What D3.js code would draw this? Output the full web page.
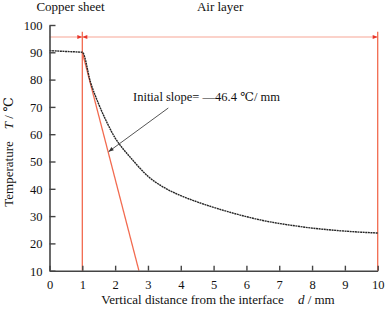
<!DOCTYPE html>
<html>
<head>
<meta charset="utf-8">
<script src="https://cdn.jsdelivr.net/npm/d3@7"></script>
<style>
  body { margin: 0; background: #fff; }
  svg text { font-family: "Liberation Serif", "DejaVu Serif", serif; fill: #111; }
</style>
</head>
<body>
<script>
// distance d (mm) and temperature T (°C)
const dist = [0, 0.5, 1, 1.25, 1.5, 1.75, 2, 2.25, 2.5, 2.75, 3, 3.5, 4, 4.5, 5, 5.5, 6, 6.5, 7, 7.5, 8, 8.5, 9, 9.5, 10];
const temp = [90.6, 90.3, 90.0, 79.0, 71.0, 64.3, 58.6, 54.5, 51.0, 47.6, 44.6, 40.4, 37.5, 35.2, 33.2, 31.4, 29.8, 28.4, 27.3, 26.4, 25.6, 25.0, 24.5, 24.1, 23.8];
const xTicks = [0, 1, 2, 3, 4, 5, 6, 7, 8, 9, 10];
const yTicks = [10, 20, 30, 40, 50, 60, 70, 80, 90, 100];
const slope = -46.4;
const slopeStart = [1, 90];
const boundaries = [1, 10];
const layerY = 95.6;
const layerLabels = ['Copper sheet', 'Air layer'];
const layerLabelX = [0.64, 5.2];
const arrowFrom = [3.62, 69.6];
const arrowTo = [1.8, 53.6];

const W = 387, H = 309;
const svg = d3.select('body').append('svg').attr('width', W).attr('height', H)
  .attr('font-family', '"Liberation Serif", "DejaVu Serif", serif');

const x = d3.scaleLinear().domain([0, 10]).range([49.5, 377.7]);
const y = d3.scaleLinear().domain([10, 100]).range([270.7, 25]);

const red = '#f26a4f';

// arrow heads
const defs = svg.append('defs');
defs.append('marker')
  .attr('id', 'ah').attr('viewBox', '0 0 10 10').attr('refX', 10).attr('refY', 5)
  .attr('markerWidth', 7).attr('markerHeight', 5).attr('orient', 'auto')
  .append('path').attr('d', 'M0,1L10,5L0,9Z').attr('fill', '#e8352a');
defs.append('marker')
  .attr('id', 'ag').attr('viewBox', '0 0 10 10').attr('refX', 10).attr('refY', 5)
  .attr('markerWidth', 7).attr('markerHeight', 5).attr('orient', 'auto')
  .append('path').attr('d', 'M0,1L10,5L0,9Z').attr('fill', '#333');

// layer marker line (light red) with arrows
svg.append('line')
  .attr('x1', x(0)).attr('x2', x(10)).attr('y1', y(layerY)).attr('y2', y(layerY))
  .attr('stroke', '#f7a595').attr('stroke-width', 1);
[[x(0.75), x(1)], [x(1.25), x(1)], [x(9.7), x(10)]].forEach(p => {
  svg.append('line')
    .attr('x1', p[0]).attr('x2', p[1]).attr('y1', y(layerY)).attr('y2', y(layerY))
    .attr('stroke', 'none').attr('marker-end', 'url(#ah)');
});

// boundary lines
svg.selectAll('.bnd').data(boundaries).enter().append('line')
  .attr('x1', d => x(d)).attr('x2', d => x(d))
  .attr('y1', y(97.5)).attr('y2', y(10))
  .attr('stroke', red).attr('stroke-width', 1.3);

// tangent line at the interface
const tEnd = slopeStart[0] + (10 - slopeStart[1]) / slope;
svg.append('line')
  .attr('x1', x(slopeStart[0])).attr('y1', y(slopeStart[1]))
  .attr('x2', x(tEnd)).attr('y2', y(10))
  .attr('stroke', red).attr('stroke-width', 1.3);

// temperature curve
const pts = dist.map((d, i) => [d, temp[i]]);
svg.append('path')
  .datum(pts)
  .attr('d', d3.line().x(d => x(d[0])).y(d => y(d[1])).curve(d3.curveMonotoneX))
  .attr('fill', 'none').attr('stroke', '#262626').attr('stroke-width', 1.4)
  .attr('stroke-dasharray', '2,0.6');

// axes
const xAxis = svg.append('g').attr('transform', `translate(0,${y(10)})`)
  .call(d3.axisBottom(x).tickValues(xTicks).tickSize(-5).tickPadding(9).tickSizeOuter(0));
const yAxis = svg.append('g').attr('transform', `translate(${x(0)},0)`)
  .call(d3.axisLeft(y).tickValues(yTicks).tickSize(-6).tickPadding(7).tickSizeOuter(0));
[xAxis, yAxis].forEach(a => {
  a.attr('font-family', null);
  a.select('.domain').attr('stroke', '#444').attr('stroke-width', 1.6);
  a.selectAll('.tick line').attr('stroke', '#444').attr('stroke-width', 1.4);
  a.selectAll('.tick text').style('font-size', '12.5px').attr('fill', '#111');
});
yAxis.selectAll('.tick text').attr('dy', '0.35em');

// axis titles
const xt = svg.append('text').attr('x', 218).attr('y', 304).attr('text-anchor', 'middle')
  .style('font-size', '13px');
xt.append('tspan').text('Vertical distance from the interface');
xt.append('tspan').attr('dx', 14).style('font-style', 'italic').text('d');
xt.append('tspan').text(' / mm');

const yt = svg.append('text').attr('transform', 'translate(13,152) rotate(-90)')
  .attr('text-anchor', 'middle').style('font-size', '13px');
yt.append('tspan').text('Temperature');
yt.append('tspan').attr('dx', 12).style('font-style', 'italic').text('T');
yt.append('tspan').text(' / ℃');

// layer labels
svg.selectAll('.lbl').data(layerLabels).enter().append('text')
  .attr('x', (d, i) => x(layerLabelX[i])).attr('y', 11)
  .attr('text-anchor', 'middle').style('font-size', '13px')
  .text(d => d);

// slope annotation
svg.append('line')
  .attr('x1', x(arrowFrom[0])).attr('y1', y(arrowFrom[1]))
  .attr('x2', x(arrowTo[0])).attr('y2', y(arrowTo[1]))
  .attr('stroke', '#555').attr('stroke-width', 1).attr('marker-end', 'url(#ag)');
svg.append('text').attr('x', 133).attr('y', 101).style('font-size', '12.5px')
  .text('Initial slope= —46.4 ℃/ mm');
</script>
</body>
</html>
